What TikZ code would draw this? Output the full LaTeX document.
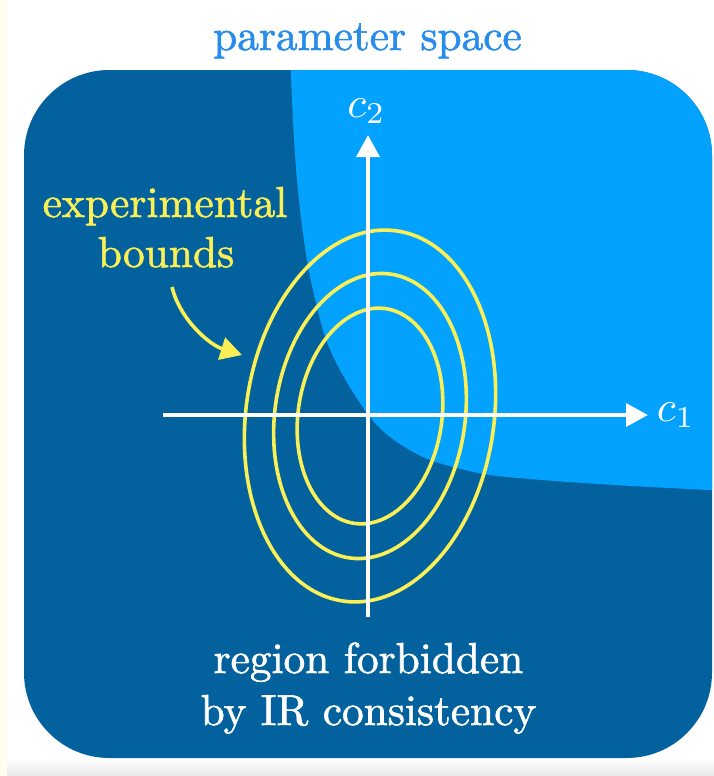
\documentclass[tikz,border=0pt]{standalone}
\usepackage{fontspec}
\setmainfont{lmroman10-regular.otf}[FakeBold=1.4]
\usetikzlibrary{arrows.meta}
\definecolor{darkbg}{RGB}{3,98,158}
\definecolor{lightbg}{RGB}{3,162,254}
\definecolor{ylw}{RGB}{250,240,85}
\definecolor{titleblue}{RGB}{40,140,235}
\definecolor{cream}{RGB}{255,253,235}
\begin{document}
\begin{tikzpicture}[x=0.75pt,y=-0.75pt,
  lbl/.style={scale=3.25, inner sep=0pt, anchor=base},
  axisline/.style={draw=white, line width=3.4pt, -{Triangle[length=16.5pt,width=17pt]}},
  bound/.style={draw=ylw, line width=2.7pt},
]
\useasboundingbox (0,0) rectangle (714,776);
\fill[white] (0,0) rectangle (714,776);
\fill[cream] (0,0) rectangle (7,776);
\shade[top color=white, bottom color=black!9] (7,758) rectangle (714,776);

% panel
\begin{scope}
  \path[clip, rounded corners=64pt] (24,70) rectangle (712,758);
  \fill[darkbg] (0,40) rectangle (730,790);
  \fill[lightbg] plot[smooth, tension=0.55] coordinates {(290,40) (292,100) (297,180) (307,260) (323,330) (340,370) (367,413) (390,437) (423,457) (457,468) (490,475) (530,479) (583,483) (650,487) (730,491)} -- (730,40) -- cycle;
\end{scope}

% experimental bounds
\begin{scope}[shift={(370,416)}, rotate=-8.3]
  \draw[bound] (0,0) ellipse [x radius=124, y radius=187];
  \draw[bound] (0,0) ellipse [x radius=95.1, y radius=143.4];
  \draw[bound] (0,0) ellipse [x radius=71.9, y radius=108.5];
\end{scope}

% axes
\coordinate (xs) at (163,415);
\coordinate (xe) at (648,415);
\coordinate (ys) at (368,617);
\coordinate (ye) at (368,135);
\draw[axisline] (xs) -- (xe);
\draw[axisline] (ys) -- (ye);

% labels
\node[lbl, text=titleblue] (title) at (367.5,50) {parameter space};
\node[lbl, text=ylw] (exp) at (165,217) {experimental};
\node[lbl, text=ylw] (bounds) at (166,267) {bounds};
\node[lbl, text=white] (forb1) at (368.5,673) {region forbidden};
\node[lbl, text=white] (forb2) at (368.5,725) {by IR consistency};
\node[lbl, text=white] (c2) at (366.5,117) {$c_2$};
\node[lbl, text=white] (c1) at (676,421) {$c_1$};

% pointer arrow
\coordinate (bs) at (172,287);
\coordinate (bt) at (242,355);
\draw[bound, -{Triangle[length=16pt,width=17pt]}] (bs) .. controls (180,320) and (210,345) .. (bt);
\end{tikzpicture}
\end{document}
